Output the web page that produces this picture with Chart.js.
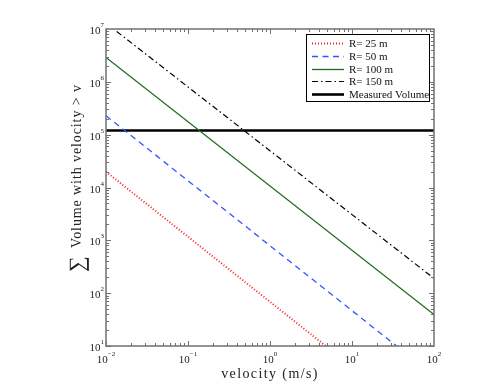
<!DOCTYPE html>
<html>
<head>
<meta charset="utf-8">
<script src="https://cdn.jsdelivr.net/npm/chart.js@4"></script>
<style>
  body { margin: 0; background: #fff; }
  canvas { display: block; }
</style>
</head>
<body>
<canvas id="myChart" width="480" height="389"></canvas>
<script>
// series names as in the legend
var seriesNames = ['R= 25 m', 'R= 50 m', 'R= 100 m', 'R= 150 m', 'Measured Volume'];

// velocity (m/s) / cumulative volume
var r25X = [0.01, 4.78];
var r25Y = [1.99e4, 10];
var r50X = [0.01, 35];
var r50Y = [2.28e5, 10];
var r100X = [0.01, 100];
var r100Y = [2.9e6, 39.5];
var r150X = [0.0135, 100];
var r150Y = [9.0e6, 190];
var measuredX = [0.01, 100];
var measuredY = [1.2e5, 1.2e5];

// decade exponents of the tick labels
var xTickExp = [-2, -1, 0, 1, 2];
var yTickExp = [1, 2, 3, 4, 5, 6, 7];

function pts(xs, ys) {
    var out = [];
    for (var i = 0; i < xs.length; i++) {
        out.push({x: xs[i], y: ys[i]});
    }
    return out;
}

var serif = '"Liberation Serif", "DejaVu Serif", serif';

// frame, ticks, tick labels, axis titles, legend
var decorPlugin = {
    id: 'decor',
    afterDatasetsDraw: function(chart) {
        var ctx = chart.ctx;
        var a = chart.chartArea;
        var xs = chart.scales.x, ys = chart.scales.y;
        ctx.save();

        // frame
        ctx.strokeStyle = '#707070';
        ctx.lineWidth = 1.5;
        ctx.strokeRect(a.left, a.top, a.right - a.left, a.bottom - a.top);

        // tick marks, inward on all four sides
        ctx.lineWidth = 1;
        ctx.beginPath();
        for (var e = -2; e < 2; e++) {
            for (var m = 1; m < 10; m++) {
                var px = Math.round(xs.getPixelForValue(m * Math.pow(10, e))) + 0.5;
                var len = m == 1 ? 5 : 3;
                ctx.moveTo(px, a.bottom); ctx.lineTo(px, a.bottom - len);
                ctx.moveTo(px, a.top); ctx.lineTo(px, a.top + len);
            }
        }
        for (var e2 = 1; e2 < 7; e2++) {
            for (var m2 = 1; m2 < 10; m2++) {
                var py = Math.round(ys.getPixelForValue(m2 * Math.pow(10, e2))) + 0.5;
                var len2 = m2 == 1 ? 5 : 3;
                ctx.moveTo(a.left, py); ctx.lineTo(a.left + len2, py);
                ctx.moveTo(a.right, py); ctx.lineTo(a.right - len2, py);
            }
        }
        ctx.stroke();

        // tick labels 10^n
        ctx.fillStyle = '#222';
        ctx.textBaseline = 'alphabetic';
        xTickExp.forEach(function(n) {
            var px = xs.getPixelForValue(Math.pow(10, n));
            var ex = String(n).replace('-', '\u2212');
            ctx.font = '11px ' + serif;
            var wb = ctx.measureText('10').width;
            ctx.font = '7px ' + serif;
            var we = ctx.measureText(ex).width;
            var x0 = px - (wb + we) / 2;
            ctx.font = '11px ' + serif;
            ctx.textAlign = 'left';
            ctx.fillText('10', x0, 363);
            ctx.font = '7px ' + serif;
            ctx.fillText(ex, x0 + wb, 356);
        });
        yTickExp.forEach(function(n) {
            var py = ys.getPixelForValue(Math.pow(10, n));
            ctx.font = '7px ' + serif;
            ctx.textAlign = 'right';
            ctx.fillText(String(n), 104, py - 2);
            var we = ctx.measureText(String(n)).width;
            ctx.font = '11px ' + serif;
            ctx.fillText('10', 104 - we, py + 5);
        });

        // x title
        ctx.font = '14px ' + serif;
        ctx.letterSpacing = '1.4px';
        ctx.textAlign = 'center';
        ctx.fillStyle = '#222';
        ctx.fillText('velocity (m/s)', (a.left + a.right) / 2, 378);

        // y title with summation sign
        ctx.save();
        ctx.translate(81, 0);
        ctx.rotate(-Math.PI / 2);
        ctx.textAlign = 'left';
        ctx.letterSpacing = '0px';
        ctx.font = '22px ' + serif;
        ctx.fillText('\u2211', -272, 3);
        ctx.font = '14px ' + serif;
        ctx.letterSpacing = '0.9px';
        ctx.fillText('Volume with velocity > v', -248, 0);
        ctx.restore();
        ctx.letterSpacing = '0px';

        // legend box
        var bx = 306, by = 34, bw = 123, bh = 67;
        ctx.fillStyle = '#fff';
        ctx.fillRect(bx, by, bw, bh);
        ctx.strokeStyle = '#000';
        ctx.lineWidth = 1;
        ctx.strokeRect(bx + 0.5, by + 0.5, bw, bh);
        ctx.font = '11px ' + serif;
        ctx.textAlign = 'left';
        ctx.textBaseline = 'middle';
        chart.data.datasets.forEach(function(ds, i) {
            var y = Math.round(by + 9 + i * 12.75) + 0.5;
            ctx.save();
            ctx.strokeStyle = ds.borderColor;
            ctx.lineWidth = ds.borderWidth;
            ctx.setLineDash(ds.borderDash || []);
            ctx.beginPath();
            ctx.moveTo(312, y);
            ctx.lineTo(344, y);
            ctx.stroke();
            ctx.restore();
            ctx.fillStyle = '#111';
            ctx.fillText(ds.label, 349, y + 0.5);
        });

        ctx.restore();
    }
};

var ctx = document.getElementById('myChart').getContext('2d');
var chart = new Chart(ctx, {
    type: 'line',
    data: {
        datasets: [{
            label: seriesNames[0],
            data: pts(r25X, r25Y),
            borderColor: '#ff2020',
            borderWidth: 2,
            borderDash: [1, 2]
        }, {
            label: seriesNames[1],
            data: pts(r50X, r50Y),
            borderColor: '#2f55ff',
            borderWidth: 1.3,
            borderDash: [6, 4.5]
        }, {
            label: seriesNames[2],
            data: pts(r100X, r100Y),
            borderColor: '#1f6a1f',
            borderWidth: 1.3
        }, {
            label: seriesNames[3],
            data: pts(r150X, r150Y),
            borderColor: '#000',
            borderWidth: 1.2,
            borderDash: [6, 3, 1.5, 3]
        }, {
            label: seriesNames[4],
            data: pts(measuredX, measuredY),
            borderColor: '#000',
            borderWidth: 2.6
        }]
    },
    options: {
        responsive: false,
        animation: false,
        layout: {padding: {left: 106, top: 29, right: 46, bottom: 43}},
        elements: {point: {radius: 0}, line: {tension: 0}},
        plugins: {legend: {display: false}, tooltip: {enabled: false}},
        scales: {
            x: {type: 'logarithmic', min: 0.01, max: 100, display: false},
            y: {type: 'logarithmic', min: 10, max: 1e7, display: false}
        }
    },
    plugins: [decorPlugin]
});
</script>
</body>
</html>
